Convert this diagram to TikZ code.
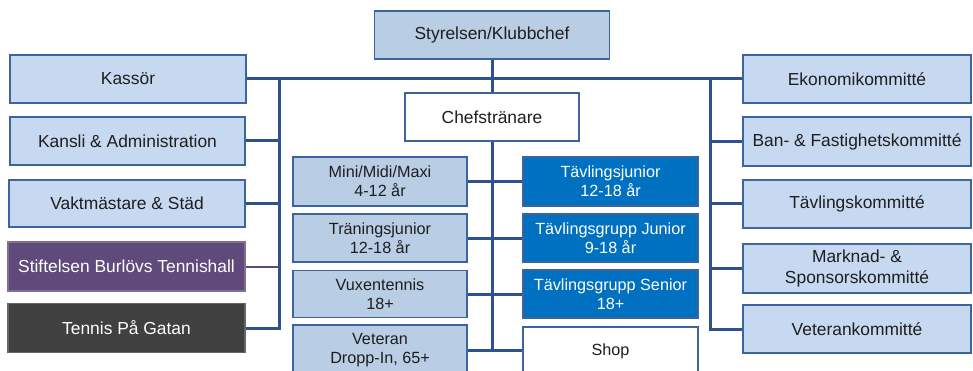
\documentclass[tikz,border=0pt]{standalone}
\usepackage{fontspec}
\setmainfont{Liberation Sans}
\definecolor{lineblue}{RGB}{47,82,143}
\definecolor{edgeblue}{RGB}{62,100,158}
\definecolor{lightfill}{RGB}{198,217,241}
\definecolor{grayfill}{RGB}{185,205,229}
\definecolor{darkfill}{RGB}{0,112,192}
\definecolor{purplefill}{RGB}{96,74,123}
\definecolor{tpgfill}{RGB}{64,64,64}
\definecolor{txt}{RGB}{30,30,30}
\tikzset{
  box/.style={draw=edgeblue, line width=1.2pt, inner sep=0pt, align=center, text=txt},
  bigbox/.style={box, fill=lightfill, font=\fontsize{17.4}{21}\selectfont},
  topbox/.style={box, fill=grayfill, font=\fontsize{17.4}{21}\selectfont},
  midbox/.style={box, fill=grayfill, font=\fontsize{16.2}{19}\selectfont},
  compbox/.style={box, fill=darkfill, text=white, font=\fontsize{16.2}{19}\selectfont},
  whitebox/.style={box, fill=white, font=\fontsize{16.2}{19}\selectfont},
  conn/.style={draw=lineblue, line width=3pt},
}
\begin{document}
\begin{tikzpicture}[x=1pt,y=-1pt]
\clip (0,0) rectangle (973,371);
\fill[white] (0,0) rectangle (973,371);
% top
\node[topbox, minimum width=235pt, minimum height=48pt] (sty) at (492,35) {Styrelsen/Klubbchef};
\node[box, fill=white, font=\fontsize{17.4}{21}\selectfont, minimum width=174pt, minimum height=48pt] (che) at (492,117) {Chefstränare};
% left column
\node[bigbox, minimum width=236pt, minimum height=48pt] (kas) at (128,79) {Kassör};
\node[bigbox, minimum width=235pt, minimum height=48pt] (kan) at (127.5,141) {Kansli \& Administration};
\node[bigbox, minimum width=236pt, minimum height=47pt] (vak) at (127,203.5) {Vaktmästare \& Städ};
\node[box, draw=purplefill!80!white, fill=purplefill, text=white, font=\fontsize{17.4}{21}\selectfont, minimum width=237pt, minimum height=49pt] (sti) at (126.5,266.5) {Stiftelsen Burlövs Tennishall};
\node[box, draw=tpgfill!80!white, fill=tpgfill, text=white, font=\fontsize{17.4}{21}\selectfont, minimum width=237pt, minimum height=49pt] (tpg) at (126.5,328) {Tennis På Gatan};
% middle left column
\node[midbox, minimum width=174pt, minimum height=49pt] (mini) at (380,181.5) {Mini/Midi/Maxi\\4-12 år};
\node[midbox, minimum width=174pt, minimum height=48pt] (trj) at (380,238) {Träningsjunior\\12-18 år};
\node[midbox, minimum width=174pt, minimum height=47pt] (vux) at (380,294) {Vuxentennis\\18+};
\node[midbox, minimum width=174pt, minimum height=50pt] (vet) at (380,350) {Veteran\\Dropp-In, 65+};
% middle right column
\node[compbox, minimum width=175pt, minimum height=49pt] (tj) at (610.5,181.5) {Tävlingsjunior\\12-18 år};
\node[compbox, minimum width=175pt, minimum height=48pt] (tgj) at (610.5,238) {Tävlingsgrupp Junior\\9-18 år};
\node[compbox, minimum width=175pt, minimum height=48pt] (tgs) at (610.5,294) {Tävlingsgrupp Senior\\18+};
\node[whitebox, minimum width=175pt, minimum height=48pt] (shop) at (610.5,351) {Shop};
% right column
\node[bigbox, minimum width=228pt, minimum height=48pt] (eko) at (857,79) {Ekonomikommitté};
\node[bigbox, minimum width=228pt, minimum height=49pt] (ban) at (857,141.5) {Ban- \& Fastighetskommitté};
\node[bigbox, minimum width=228pt, minimum height=48pt] (tav) at (857,204) {Tävlingskommitté};
\node[bigbox, minimum width=228pt, minimum height=49pt] (mar) at (857,268.5) {Marknad- \&\\Sponsorskommitté};
\node[bigbox, minimum width=228pt, minimum height=48pt] (vtk) at (857,329) {Veterankommitté};
% bus coordinates
\coordinate (lb) at (279,79);
\coordinate (rb) at (710,79);
% connectors
\draw[conn] (kas.east) -- (eko.west);
\draw[conn] (sty.south) -- (che.north);
\draw[conn] (tpg.east) -| (lb);
\draw[conn] (kan.east) -- (kan.east -| lb);
\draw[conn] (vak.east) -- (vak.east -| lb);
\draw[draw=purplefill, line width=2pt] (sti.east) -- (sti.east -| lb);
\draw[conn] (vtk.west) -| (rb);
\draw[conn] (ban.west) -- (ban.west -| rb);
\draw[conn] (tav.west) -- (tav.west -| rb);
\draw[conn] (mar.west) -- (mar.west -| rb);
\draw[conn] (che.south) -- (che.south |- vet.east);
\draw[conn] (mini.east) -- (tj.west);
\draw[conn] (trj.east) -- (tgj.west);
\draw[conn] (vux.east) -- (tgs.west);
\draw[conn] (vet.east) -- (vet.east -| shop.west);
\end{tikzpicture}
\end{document}
